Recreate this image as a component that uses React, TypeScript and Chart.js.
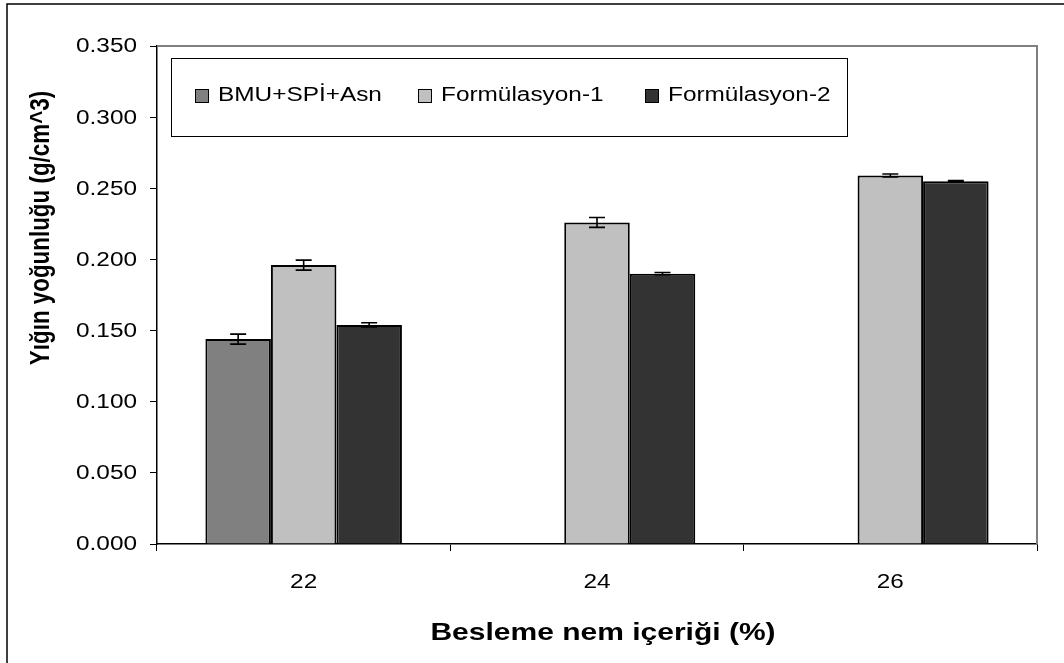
import React, { useEffect, useRef } from "react";
import { Chart, registerables } from "chart.js";

Chart.register(...registerables);

const categories = ["22", "24", "26"];
const seriesNames = ["BMU+SPİ+Asn", "Formülasyon-1", "Formülasyon-2"];
const bmuValues = [0.144, null, null];
const f1Values = [0.196, 0.226, 0.259];
const f2Values = [0.154, 0.19, 0.255];
const bmuErrors = [0.0035, 0, 0];
const f1Errors = [0.0035, 0.0035, 0.001];
const f2Errors = [0.0015, 0.0008, 0.0004];
const seriesColors = ["#808080", "#C0C0C0", "#333333"];
const yTitle = "Yığın yoğunluğu (g/cm^3)";
const xTitle = "Besleme nem içeriği (%)";

const FONT = "'Liberation Sans', Arial, sans-serif";
const SX = 1.25; // horizontal text stretch seen in the reference

function stretchText(ctx: any, text: string, x: number, y: number) {
  ctx.save();
  ctx.translate(x, y);
  ctx.scale(SX, 1);
  ctx.fillText(text, 0, 0);
  ctx.restore();
}

const errorBarPlugin = {
  id: "errorBars",
  afterDatasetsDraw(chart: any) {
    const ctx = chart.ctx;
    const yScale = chart.scales.y;
    const errs = [bmuErrors, f1Errors, f2Errors];
    ctx.save();
    ctx.strokeStyle = "#000";
    ctx.lineWidth = 1.6;
    chart.data.datasets.forEach((ds: any, di: number) => {
      const meta = chart.getDatasetMeta(di);
      meta.data.forEach((bar: any, i: number) => {
        const v = ds.data[i];
        const e = errs[di][i];
        if (v == null || !e) return;
        const x = bar.x;
        const yTop = yScale.getPixelForValue(v + e);
        const yBot = yScale.getPixelForValue(v - e);
        ctx.beginPath();
        ctx.moveTo(x, yTop);
        ctx.lineTo(x, yBot);
        ctx.moveTo(x - 8, yTop);
        ctx.lineTo(x + 8, yTop);
        ctx.moveTo(x - 8, yBot);
        ctx.lineTo(x + 8, yBot);
        ctx.stroke();
      });
    });
    ctx.restore();
  },
};

const decorPlugin = {
  id: "decor",
  beforeDraw(chart: any) {
    const ctx = chart.ctx;
    ctx.save();
    ctx.fillStyle = "#fff";
    ctx.fillRect(0, 0, chart.width, chart.height);
    ctx.strokeStyle = "#000";
    ctx.lineWidth = 1.5;
    ctx.beginPath();
    ctx.moveTo(7, chart.height + 2);
    ctx.lineTo(7, 4);
    ctx.lineTo(chart.width + 2, 4);
    ctx.stroke();
    ctx.restore();
  },
  afterDraw(chart: any) {
    const ctx = chart.ctx;
    const area = chart.chartArea;
    const xs = chart.scales.x;
    const ys = chart.scales.y;
    ctx.save();
    ctx.strokeStyle = "#808080";
    ctx.lineWidth = 2;
    ctx.beginPath();
    ctx.moveTo(area.left, area.top);
    ctx.lineTo(area.right, area.top);
    ctx.lineTo(area.right, area.bottom);
    ctx.stroke();

    ctx.fillStyle = "#000";
    // y tick labels
    ctx.font = `19.5px ${FONT}`;
    ctx.textAlign = "right";
    ctx.textBaseline = "middle";
    ys.ticks.forEach((t: any) => {
      const y = ys.getPixelForValue(t.value);
      stretchText(ctx, Number(t.value).toFixed(3), 137, y + 1);
    });
    // x tick labels
    ctx.textAlign = "center";
    (chart.data.labels as string[]).forEach((lab: string, i: number) => {
      stretchText(ctx, lab, xs.getPixelForValue(i), 583);
    });

    // axis titles
    ctx.font = `bold 22.4px ${FONT}`;
    ctx.save();
    ctx.translate(41, 228);
    ctx.scale(SX, 1);
    ctx.rotate(-Math.PI / 2);
    ctx.fillText(yTitle, 0, 0);
    ctx.restore();
    ctx.font = `bold 24px ${FONT}`;
    stretchText(ctx, xTitle, 603, 633);

    // legend
    const lx = 171, ly = 58, lw = 676, lh = 78;
    ctx.fillStyle = "#fff";
    ctx.fillRect(lx, ly, lw, lh);
    ctx.strokeStyle = "#000";
    ctx.lineWidth = 1;
    ctx.strokeRect(lx + 0.5, ly + 0.5, lw, lh);
    const itemX = [195, 418, 645];
    ctx.font = `19.5px ${FONT}`;
    ctx.textAlign = "left";
    ctx.textBaseline = "middle";
    chart.data.datasets.forEach((ds: any, i: number) => {
      const x = itemX[i];
      const cy = 96;
      ctx.fillStyle = ds.backgroundColor;
      ctx.fillRect(x, cy - 7, 14, 14);
      ctx.strokeStyle = "#000";
      ctx.lineWidth = 1;
      ctx.strokeRect(x + 0.5, cy - 6.5, 13, 13);
      ctx.fillStyle = "#000";
      stretchText(ctx, ds.label, x + 23, cy);
    });
    ctx.restore();
  },
};

export default function App() {
  const ref = useRef<HTMLCanvasElement>(null);
  useEffect(() => {
    document.body.style.margin = "0";
    const canvas = ref.current!;
    const vals = [bmuValues, f1Values, f2Values];
    const chart = new Chart(canvas, {
      type: "bar",
      data: {
        labels: categories,
        datasets: seriesNames.map((name, i) => ({
          label: name,
          data: vals[i] as any,
          backgroundColor: seriesColors[i],
          borderColor: "#000",
          borderWidth: 2,
          categoryPercentage: 0.67,
          barPercentage: 1,
        })),
      },
      options: {
        animation: false,
        responsive: false,
        maintainAspectRatio: false,
        layout: { padding: { left: 0, right: 27, top: 46, bottom: 0 } },
        plugins: { legend: { display: false }, tooltip: { enabled: false }, title: { display: false } },
        scales: {
          x: {
            grid: { display: true, offset: true, drawOnChartArea: false, drawTicks: true, tickLength: 7, color: "#000", lineWidth: 1 },
            border: { display: true, color: "#000", width: 1.5 },
            ticks: { display: false },
            afterFit(scale: any) { scale.height = 663 - 544; },
          },
          y: {
            min: 0,
            max: 0.35,
            grid: { display: true, drawOnChartArea: false, drawTicks: true, tickLength: 7, color: "#000", lineWidth: 1 },
            border: { display: true, color: "#000", width: 1.5 },
            ticks: { display: false, stepSize: 0.05 },
            afterFit(scale: any) { scale.width = 157; },
          },
        },
      },
      plugins: [decorPlugin, errorBarPlugin],
    });
    return () => chart.destroy();
  }, []);
  return <canvas ref={ref} width={1064} height={663} style={{ display: "block" }} />;
}
